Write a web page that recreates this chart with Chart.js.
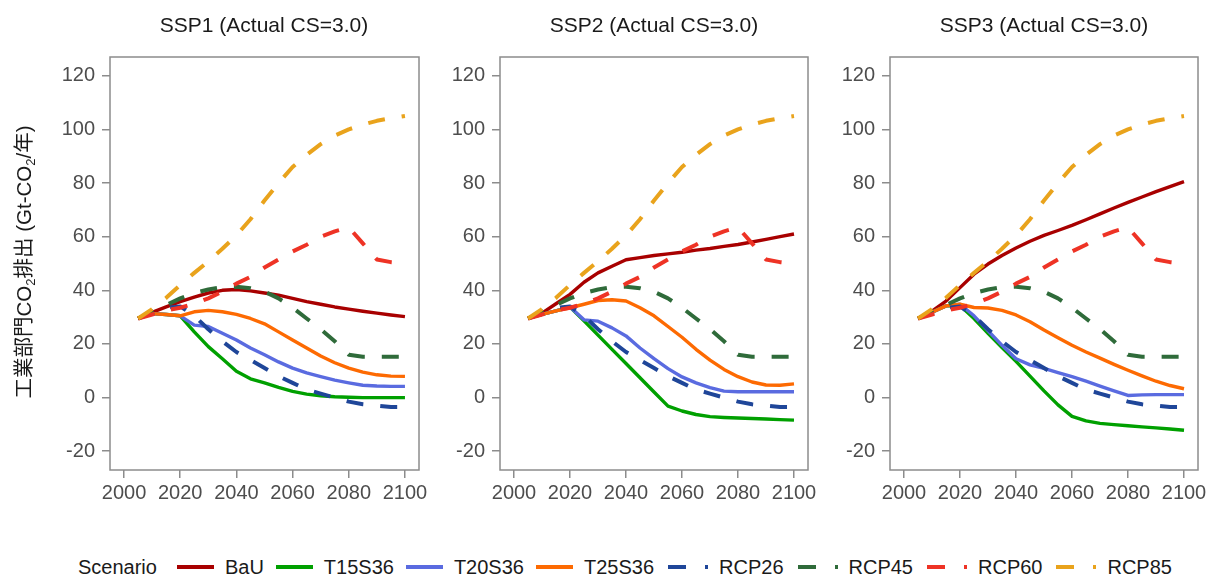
<!DOCTYPE html>
<html lang="ja">
<head>
<meta charset="utf-8">
<title>工業部門CO2排出</title>
<script src="https://cdn.jsdelivr.net/npm/chart.js@4/dist/chart.umd.min.js"></script>
<style>
    body { margin: 0; background: #fff; font-family: "Liberation Sans", Arial, "Noto Sans CJK JP", sans-serif; }
    #wrap { position: relative; width: 1210px; height: 576px; overflow: hidden; background: #fff; }
    #wrap canvas { position: absolute; top: 0; }
    .ptitle { position: absolute; top: 13px; width: 400px; height: 24px; line-height: 24px; font-size: 21px; color: #1a1a1a; text-align: center; }
    #ylab { position: absolute; left: -176px; top: 250px; width: 400px; height: 24px; line-height: 24px; font-size: 20.5px; color: #1a1a1a; text-align: center; white-space: nowrap; transform: rotate(-90deg); font-family: "Liberation Sans", Arial, "Noto Sans CJK JP", sans-serif; }
    #ylab sub { font-size: 13px; vertical-align: -4px; line-height: 0; }
    #legend { position: absolute; left: 78px; top: 555px; height: 24px; display: flex; align-items: center; font-size: 20px; color: #1a1a1a; white-space: nowrap; }
    #legend .key { display: inline-block; width: 37px; height: 4px; margin-left: 12px; }
    #legend .key.first { margin-left: 20px; }
    #legend .key.dash { width: 40px; margin-left: 14px; }
    #legend .lbl { margin-left: 11px; }
</style>
</head>
<body>
<div id="wrap">
    <canvas id="ssp1" width="430" height="520" style="left:0px"></canvas>
    <canvas id="ssp2" width="380" height="520" style="left:440px"></canvas>
    <canvas id="ssp3" width="380" height="520" style="left:830px"></canvas>
    <div class="ptitle" style="left:64px">SSP1 (Actual CS=3.0)</div>
    <div class="ptitle" style="left:454px">SSP2 (Actual CS=3.0)</div>
    <div class="ptitle" style="left:844px">SSP3 (Actual CS=3.0)</div>
    <div id="ylab">工業部門CO<sub>2</sub>排出 (Gt-CO<sub>2</sub>/年)</div>
    <div id="legend"></div>
</div>
<script>
// 5-year steps, 2005 - 2100
const years = [2005, 2010, 2015, 2020, 2025, 2030, 2035, 2040, 2045, 2050,
               2055, 2060, 2065, 2070, 2075, 2080, 2085, 2090, 2095, 2100];
const xTicks = [2000, 2020, 2040, 2060, 2080, 2100];
const yTicks = [-20, 0, 20, 40, 60, 80, 100, 120];

const scenarios = ['BaU', 'T15S36', 'T20S36', 'T25S36', 'RCP26', 'RCP45', 'RCP60', 'RCP85'];
const scenarioColors = ['#a80000', '#00a000', '#5a6be0', '#fd6a02', '#1f4699', '#2f6b3a', '#ee3325', '#e9a31c'];
const dashedScenarios = ['RCP26', 'RCP45', 'RCP60', 'RCP85'];

// RCP pathways (same in every SSP panel)
const rcp26 = [29.5, 31.5, 33.5, 34, 30.5, 25.5, 21, 17, 14, 11, 8, 5.5, 3, 1.5, 0, -1.5, -2.5, -3, -3.5, -3.5];
const rcp45 = [29.5, 32, 34.5, 37, 39, 40.3, 41.2, 41.3, 40.8, 39.5, 37, 33.5, 29.5, 25.5, 21, 16, 15.2, 15.2, 15.2, 15.2];
const rcp60 = [29.5, 31, 32.5, 33.5, 35, 37, 39.5, 42.5, 45, 48.5, 51.5, 54.5, 57, 60, 62, 63.5, 57.5, 51.5, 50.5, 50];
const rcp85 = [29.5, 33, 37.2, 42, 46.5, 50.8, 55.5, 60.5, 66.5, 73.5, 80, 86, 90.5, 94.5, 97.7, 100, 101.8, 103.2, 104.2, 105];

// SSP1
const ssp1BaU = [29.5, 31.8, 33.8, 35.8, 37.5, 39, 40, 40.3, 39.8, 39, 38.2, 37, 35.8, 34.8, 33.8, 33, 32.2, 31.5, 30.8, 30.2];
const ssp1T15 = [29.5, 31.3, 31, 30.5, 24.5, 19, 14.5, 9.8, 7, 5.5, 3.8, 2.3, 1.3, 0.7, 0.3, 0.1, 0, 0, 0, 0];
const ssp1T20 = [29.5, 31.3, 31, 30.5, 27, 26.5, 24, 21.5, 18.5, 16, 13.3, 11, 9.2, 7.8, 6.5, 5.5, 4.6, 4.3, 4.2, 4.2];
const ssp1T25 = [29.5, 31.3, 31, 30.5, 32, 32.5, 32, 31, 29.5, 27.5, 24.5, 21.5, 18.5, 15.5, 13, 11, 9.5, 8.5, 8, 7.9];

// SSP2
const ssp2BaU = [29.5, 31.5, 35, 38.5, 43, 46.5, 49, 51.4, 52.2, 53, 53.6, 54.2, 55, 55.6, 56.4, 57.1, 58, 59, 60, 61];
const ssp2T15 = [29.5, 31, 32.3, 33.8, 28.6, 23.3, 18, 12.7, 7.4, 2.1, -3.2, -5, -6.3, -7.1, -7.4, -7.6, -7.8, -8, -8.2, -8.4];
const ssp2T20 = [29.5, 31, 32.3, 33.8, 29, 28.5, 26, 23, 18.5, 14.5, 10.8, 7.7, 5.5, 3.7, 2.4, 2.2, 2.2, 2.2, 2.2, 2.2];
const ssp2T25 = [29.5, 31, 32.3, 33.5, 34.8, 36.2, 36.5, 36, 33.5, 30.5, 26.5, 22.5, 18, 14, 10.5, 7.8, 5.8, 4.7, 4.6, 5.1];

// SSP3
const ssp3BaU = [29.5, 32.2, 36, 41, 46, 49.8, 53, 55.8, 58.3, 60.5, 62.3, 64.2, 66.3, 68.5, 70.7, 72.8, 74.8, 76.8, 78.7, 80.5];
const ssp3T15 = [29.5, 31.8, 34.2, 34.3, 29.5, 24, 18.7, 13.5, 8, 2.5, -2.7, -7, -8.7, -9.6, -10.1, -10.5, -10.9, -11.3, -11.7, -12.2];
const ssp3T20 = [29.5, 31.8, 34.2, 34.8, 30.5, 25, 19.5, 14.5, 12.2, 10.9, 9.3, 7.8, 6.1, 4.3, 2.5, 0.8, 1, 1.1, 1.1, 1.1];
const ssp3T25 = [29.5, 31.8, 34.2, 34.8, 33.6, 33.4, 32.5, 30.8, 28.3, 25.2, 22.3, 19.5, 17, 14.7, 12.4, 10.2, 8.1, 6.1, 4.5, 3.3];

const fontFamily = '"Liberation Sans", Arial, sans-serif';

// frame round the plot area
const panelBox = {
    id: 'panelBox',
    afterDatasetsDraw(chart) {
        const ctx = chart.ctx;
        const a = chart.chartArea;
        ctx.save();
        ctx.strokeStyle = '#8c8c8c';
        ctx.lineWidth = 1.5;
        ctx.strokeRect(a.left, a.top, a.right - a.left, a.bottom - a.top);
        ctx.restore();
    }
};

function drawPanel(id, modelSeries, yAxisWidth, rightPad) {
    let seriesList = modelSeries.concat([rcp26, rcp45, rcp60, rcp85]);
    let datasets = seriesList.map(function (vals, i) {
        let dashed = dashedScenarios.indexOf(scenarios[i]) >= 0;
        return {
            label: scenarios[i],
            data: years.map((yr, k) => ({ x: yr, y: vals[k] })),
            borderColor: scenarioColors[i],
            borderWidth: dashed ? 4 : 3.4,
            borderDash: dashed ? [17, 17] : [],
            borderCapStyle: 'butt',
            borderJoinStyle: 'round',
            pointRadius: 0,
            tension: 0,
            fill: false,
            order: seriesList.length - i   // later scenarios drawn on top
        };
    });

    new Chart(document.getElementById(id), {
        type: 'line',
        data: { datasets: datasets },
        options: {
            responsive: false,
            animation: false,
            layout: { padding: { top: 57, right: rightPad, left: 0, bottom: 0 } },
            plugins: {
                legend: { display: false },
                tooltip: { enabled: false }
            },
            scales: {
                x: {
                    type: 'linear',
                    min: 1995,
                    max: 2105,
                    afterBuildTicks: s => { s.ticks = xTicks.map(v => ({ value: v })); },
                    afterFit: s => { s.height = 50; s.paddingLeft = 0; s.paddingRight = 0; },
                    grid: { drawOnChartArea: false, drawTicks: true, tickLength: 8, color: '#8c8c8c', lineWidth: 1.5 },
                    border: { display: false },
                    ticks: {
                        color: '#4d4d4d',
                        font: { size: 20, family: fontFamily },
                        padding: 3,
                        maxRotation: 0,
                        autoSkip: false,
                        callback: v => String(v)
                    }
                },
                y: {
                    type: 'linear',
                    min: -27,
                    max: 127,
                    afterBuildTicks: s => { s.ticks = yTicks.map(v => ({ value: v })); },
                    afterFit: s => { s.width = yAxisWidth; s.paddingTop = 0; s.paddingBottom = 0; },
                    grid: { drawOnChartArea: false, drawTicks: true, tickLength: 8, color: '#8c8c8c', lineWidth: 1.5 },
                    border: { display: false },
                    ticks: {
                        color: '#4d4d4d',
                        font: { size: 20, family: fontFamily },
                        padding: 7,
                        autoSkip: false,
                        callback: v => String(v)
                    }
                }
            }
        },
        plugins: [panelBox]
    });
}

drawPanel('ssp1', [ssp1BaU, ssp1T15, ssp1T20, ssp1T25], 110, 11);
drawPanel('ssp2', [ssp2BaU, ssp2T15, ssp2T20, ssp2T25], 60, 12);
drawPanel('ssp3', [ssp3BaU, ssp3T15, ssp3T20, ssp3T25], 60, 12);

// legend row at the bottom
let legendHtml = '<span>Scenario</span>';
scenarios.forEach(function (name, i) {
    let c = scenarioColors[i];
    let bg = c;
    let cls = 'key' + (i === 0 ? ' first' : '');
    if (dashedScenarios.indexOf(name) >= 0) {
        bg = 'linear-gradient(to right, ' + c + ' 0 18px, transparent 18px 37px, ' + c + ' 37px 40px)';
        cls += ' dash';
    }
    legendHtml += '<span class="' + cls + '" style="background:' + bg + '"></span><span class="lbl">' + name + '</span>';
});
document.getElementById('legend').innerHTML = legendHtml;
</script>
</body>
</html>
